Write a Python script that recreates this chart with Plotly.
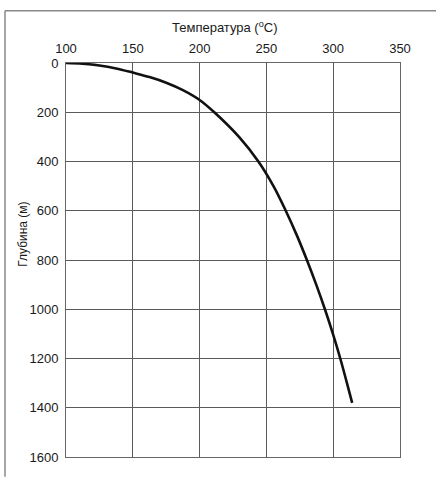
import plotly.graph_objects as go

temperature = [100, 112.5, 125, 137.5, 150, 162.5, 175, 187.5, 200, 211,
               229.5, 244, 255.3, 264.5, 272.8, 280.3, 287.3, 293.8, 299.8,
               305.3, 310.3, 314.2]
depth = [0, 3, 10, 22, 39, 57, 80, 110, 150, 200,
         300, 400, 500, 600, 700, 800, 900, 1000, 1100,
         1200, 1300, 1380]

x_ticks = [100, 150, 200, 250, 300, 350]
y_ticks = [0, 200, 400, 600, 800, 1000, 1200, 1400, 1600]

FONT = "Liberation Sans, Arial, sans-serif"
W, H = 436, 477
L, R, T, B = 66, 36, 63, 15
pw, ph = W - L - R, H - T - B

def px(x):
    return (x - L) / pw

def py(y):
    return (H - B - y) / ph

fig = go.Figure()
fig.add_trace(go.Scatter(
    x=temperature, y=depth, mode="lines",
    line=dict(color="#111111", width=2.6, shape="spline", smoothing=1.0),
    hoverinfo="skip", showlegend=False,
))

fig.update_layout(
    width=W, height=H,
    margin=dict(l=L, r=R, t=T, b=B),
    paper_bgcolor="white", plot_bgcolor="white",
    font=dict(family=FONT, size=13, color="#1a1a1a"),
    xaxis=dict(
        side="top", range=[100, 350], tickvals=x_ticks,
        showgrid=True, gridcolor="#5a5a5a", gridwidth=1,
        showline=True, linecolor="#666666", linewidth=1, mirror=True,
        zeroline=False, ticks="", ticklabelstandoff=4,
    ),
    yaxis=dict(
        range=[1600, 0], tickvals=y_ticks,
        showgrid=True, gridcolor="#5a5a5a", gridwidth=1,
        showline=True, linecolor="#666666", linewidth=1, mirror=True,
        zeroline=False, ticks="", ticklabelstandoff=4,
    ),
    shapes=[
        dict(type="line", xref="paper", yref="paper",
             x0=px(5), y0=py(10), x1=px(W + 5), y1=py(10),
             line=dict(color="#888888", width=1.5)),
        dict(type="line", xref="paper", yref="paper",
             x0=px(5), y0=py(10), x1=px(5), y1=py(H + 5),
             line=dict(color="#888888", width=1.5)),
    ],
    annotations=[
        dict(text="Температура (<sup>o</sup>C)", xref="paper", yref="paper",
             x=px(224), y=py(27), showarrow=False, xanchor="center", yanchor="middle",
             font=dict(family=FONT, size=13, color="#1a1a1a")),
        dict(text="Глубина (м)", xref="paper", yref="paper",
             x=px(23), y=py(237), showarrow=False, textangle=-90,
             xanchor="center", yanchor="middle",
             font=dict(family=FONT, size=12, color="#1a1a1a")),
    ],
)

fig.write_html("out.html")
